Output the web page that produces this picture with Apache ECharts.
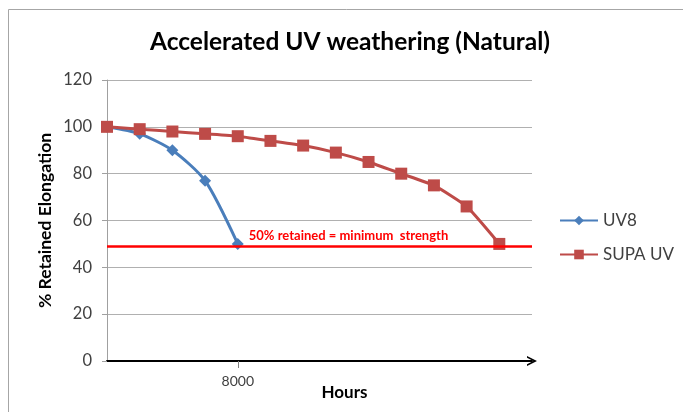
<!DOCTYPE html>
<html>
<head>
<meta charset="utf-8">
<script src="https://cdn.jsdelivr.net/npm/echarts@6/dist/echarts.min.js"></script>
<style>
  html, body { margin: 0; padding: 0; background: #fff; }
  #chart { width: 683px; height: 412px; }
</style>
</head>
<body>
<div id="chart"></div>
<script>
// hours of exposure, one point every 2000 h
var hours = [0, 2000, 4000, 6000, 8000, 10000, 12000, 14000, 16000, 18000, 20000, 22000, 24000];
var uv8 = [100, 97, 90, 77, 50];
var supaUv = [100, 99, 98, 97, 96, 94, 92, 89, 85, 80, 75, 66, 50];
var minRetained = 49;          // red "minimum strength" line
var xTicks = [8000];           // only labelled hour on the axis

var font = 'Lato';
var chart = echarts.init(document.getElementById('chart'));

var uv8Data = uv8.map(function (v, i) { return [hours[i], v]; });
// the note sits on the last UV8 point
uv8Data[uv8Data.length - 1] = {
    value: uv8Data[uv8Data.length - 1],
    label: {
        show: true,
        position: 'right',
        offset: [0, -8],
        formatter: '50% retained = minimum  strength',
        color: '#ff0000',
        fontFamily: font,
        fontWeight: 'bold',
        fontSize: 13
    }
};

var option = {
    animation: false,
    backgroundColor: '#fff',
    title: {
        text: 'Accelerated UV weathering (Natural)',
        left: 345,
        top: 25,
        textAlign: 'center',
        textStyle: { fontFamily: font, fontWeight: 'bold', fontSize: 24.5, color: '#000' }
    },
    graphic: [{
        type: 'rect',
        shape: { x: 8.5, y: 9.5, width: 800, height: 600 },
        style: { fill: 'none', stroke: '#a6a6a6', lineWidth: 1 },
        silent: true
    }],
    legend: {
        orient: 'vertical',
        left: 559,
        top: 212,
        padding: 0,
        itemWidth: 38,
        itemHeight: 12,
        itemGap: 17,
        textStyle: { fontFamily: font, fontSize: 17, color: '#404040' },
        data: ['UV8', 'SUPA UV']
    },
    grid: { left: 107, right: 151, top: 80, bottom: 51, containLabel: false, outerBoundsMode: 'none' },
    xAxis: {
        type: 'value',
        min: 0,
        max: 26000,
        interval: 2000,
        name: 'Hours',
        nameLocation: 'middle',
        nameGap: 23,
        nameMoveOverlap: false,
        nameTextStyle: { fontFamily: font, fontWeight: 'bold', fontSize: 17, color: '#000', padding: [0, 0, 0, 50] },
        axisLine: {
            show: true,
            lineStyle: { color: '#000', width: 2 },
            symbol: ['none', 'path://M0,10 L5,0 L10,10 L8.2,10 L5,3.6 L1.8,10 Z'],
            symbolSize: [13, 10],
            symbolOffset: [0, 0]
        },
        axisTick: { show: true, customValues: xTicks, length: 7, inside: false, lineStyle: { color: '#808080' } },
        axisLabel: {
            customValues: xTicks, margin: 13, fontFamily: font, fontSize: 14, color: '#404040',
            formatter: function (v) { return String(v); }
        },
        splitLine: { show: false }
    },
    yAxis: {
        type: 'value',
        min: 0,
        max: 120,
        interval: 20,
        name: '% Retained Elongation',
        nameLocation: 'middle',
        nameGap: 53,
        nameMoveOverlap: false,
        nameTextStyle: { fontFamily: font, fontWeight: 'bold', fontSize: 17.5, color: '#000' },
        axisLine: { show: true, lineStyle: { color: '#a0a0a0', width: 1 } },
        axisTick: { show: true, length: 5, lineStyle: { color: '#a0a0a0' } },
        axisLabel: { margin: 15, fontFamily: font, fontSize: 16.5, color: '#404040' },
        splitLine: { show: true, lineStyle: { color: '#b0b0b0', width: 1 } }
    },
    series: [{
        name: 'UV8',
        type: 'line',
        smooth: 0.25,
        data: uv8Data,
        symbol: 'diamond',
        symbolSize: 12,
        lineStyle: { color: '#4a7ebb', width: 3 },
        itemStyle: { color: '#4a7ebb' },
        z: 3
    }, {
        name: 'SUPA UV',
        type: 'line',
        smooth: 0.15,
        data: supaUv.map(function (v, i) { return [hours[i], v]; }),
        symbol: 'rect',
        symbolSize: 12,
        lineStyle: { color: '#be4b48', width: 3 },
        itemStyle: { color: '#be4b48' },
        z: 4,
        markLine: {
            silent: true,
            symbol: 'none',
            label: { show: false },
            lineStyle: { color: '#ff0000', width: 2.5, type: 'solid' },
            data: [{ yAxis: minRetained }]
        }
    }]
};

chart.setOption(option);
</script>
</body>
</html>
